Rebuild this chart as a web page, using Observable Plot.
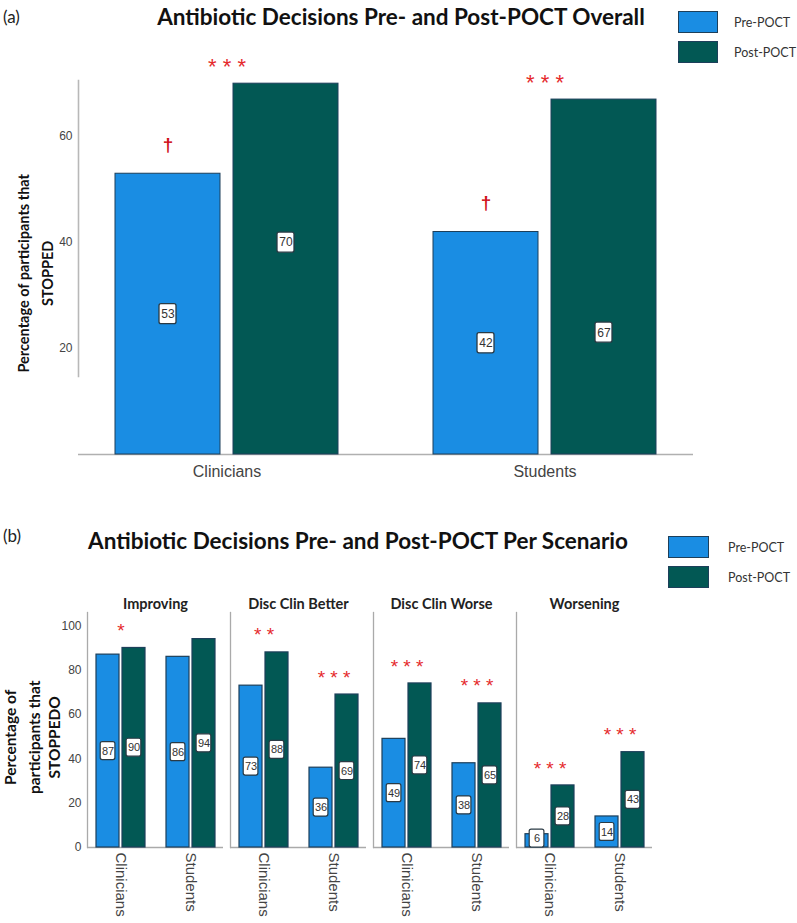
<!DOCTYPE html>
<html><head><meta charset="utf-8">
<script src="https://cdn.jsdelivr.net/npm/d3@7"></script>
<script src="https://cdn.jsdelivr.net/npm/@observablehq/plot@0.6"></script>
<style>
body{margin:0;background:#fff;}
#wrap{position:relative;width:797px;height:923px;overflow:hidden;font-family:Lato,sans-serif;background:#fff;}
#wrap svg{position:absolute;left:0;overflow:visible;}
.abs{position:absolute;white-space:nowrap;}
.title{font-weight:700;font-size:22.5px;color:#111;transform:translate(-50%,-50%);}
.tag{font-size:17px;color:#222;transform:translateY(-50%);}
.sw{position:absolute;border:1.2px solid #1d3f5a;box-sizing:border-box;}
.leglab{font-size:12.5px;color:#333;transform:translateY(-50%);}
</style></head><body><div id="wrap"></div>
<script>
// ---------- data ----------
const groups = ["Clinicians", "Students"];
const phases = ["Pre-POCT", "Post-POCT"];
const colors = ["#1a8de3", "#025854"];

// (a) overall
const overallPre = [53, 42];
const overallPost = [70, 67];
const overallPostTagAt = [40, 23];   // level (%) at which the post value tag sits
const overallPreMark = ["†", "†"];
const overallSig = ["***", "***"];

// (b) per scenario
const scenarios = ["Improving", "Disc Clin Better", "Disc Clin Worse", "Worsening"];
const scenPre  = [[87, 86], [73, 36], [49, 38], [6, 14]];
const scenPost = [[90, 94], [88, 69], [74, 65], [28, 43]];
const scenSig  = [["*", ""], ["**", "***"], ["***", "***"], ["***", "***"]];

const titleA = "Antibiotic Decisions Pre- and Post-POCT Overall";
const titleB = "Antibiotic Decisions Pre- and Post-POCT Per Scenario";
const yLabelA = ["Percentage of participants that", "STOPPED"];
const yLabelB = ["Percentage of", "participants that", "STOPPEDO"];

// ---------- helpers ----------
const wrap = document.getElementById("wrap");
function addDiv(cls, text, left, top, extra) {
  const d = document.createElement("div");
  d.className = "abs " + cls;
  d.textContent = text;
  d.style.left = left + "px";
  d.style.top = top + "px";
  if (extra) Object.assign(d.style, extra);
  wrap.appendChild(d);
  return d;
}
function legend(left, top, w, h, gap, labLeft) {
  phases.forEach((p, i) => {
    const s = document.createElement("div");
    s.className = "sw";
    Object.assign(s.style, {left: left + "px", top: (top + i * gap) + "px", width: w + "px", height: h + "px", background: colors[i]});
    wrap.appendChild(s);
    addDiv("leglab", p, labLeft, top + i * gap + h / 2);
  });
}
const spaced = s => s.split("").join(" ");
const axisFont = "Liberation Sans, Arial, sans-serif";
const red = "#e52a2d";
const edge = "#1d3f5a";
function yTitle(lines, yLevel, dxs, fontSize, extra = {}) {
  return lines.map((line, i) => Plot.text([line], {
    ...extra, frameAnchor: "left", y: yLevel, text: d => d, rotate: -90,
    textAnchor: "middle", lineAnchor: "middle", dx: dxs[i],
    fontSize, fontWeight: "bold", fill: "#111", fontFamily: "Lato"
  }));
}

// ---------- (a) ----------
const overall = groups.map((g, i) => ({
  group: g, pre: overallPre[i], post: overallPost[i], postAt: overallPostTagAt[i],
  mark: overallPreMark[i], sig: overallSig[i]
}));

const A = Plot.plot({
  width: 797, height: 490,
  marginLeft: 78, marginRight: 104, marginTop: 80, marginBottom: 114,
  style: {background: "transparent", overflow: "visible"},
  x: {domain: groups, paddingInner: 0.298, paddingOuter: 0.113, axis: null},
  y: {domain: [0, 70.6], range: [454, 80]},
  marks: [
    Plot.frame({anchor: "left", stroke: "#b8b8b8", strokeWidth: 1.6}),
    Plot.ruleY([0], {stroke: "#b0b0b0", strokeWidth: 1.6}),
    Plot.barY(overall, {x: "group", y: "pre", fill: colors[0], stroke: edge, strokeWidth: 1, insetRight: 118}),
    Plot.barY(overall, {x: "group", y: "post", fill: colors[1], stroke: edge, strokeWidth: 1, insetLeft: 118}),
    Plot.barY(overall, {x: "group", y1: d => d.pre / 2 - 1.9, y2: d => d.pre / 2 + 1.9, fill: "white", stroke: "#2a3a44", strokeWidth: 1.3, rx: 2, insetLeft: 44, insetRight: 162}),
    Plot.barY(overall, {x: "group", y1: d => d.postAt - 1.9, y2: d => d.postAt + 1.9, fill: "white", stroke: "#2a3a44", strokeWidth: 1.3, rx: 2, insetLeft: 162, insetRight: 44}),
    Plot.text(overall, {x: "group", y: d => d.pre / 2, text: d => String(d.pre), dx: -59, fontSize: 12, fill: "#333", fontFamily: axisFont}),
    Plot.text(overall, {x: "group", y: "postAt", text: d => String(d.post), dx: 59, fontSize: 12, fill: "#333", fontFamily: axisFont}),
    Plot.text(overall, {x: "group", y: "pre", text: "mark", dx: -59, dy: -29, fontSize: 19, fontWeight: "bold", fill: "#d0101a", fontFamily: axisFont}),
    Plot.text(overall, {x: "group", y: "post", text: d => spaced(d.sig), dy: -17, fontSize: 22, fill: red, fontFamily: axisFont}),
    Plot.axisY({ticks: [20, 40, 60], tickSize: 0, tickPadding: 6, fontSize: 12, fill: "#444", label: null, fontFamily: axisFont}),
    Plot.text(groups, {x: d => d, y: 0, dy: 17, fontSize: 16, fill: "#444", fontFamily: axisFont}),
    ...yTitle(yLabelA, 34.2, [-54, -30], 14.5)
  ]
});
A.style.top = "0px";
wrap.appendChild(A);

addDiv("tag", "(a)", 3, 16);
addDiv("title", titleA, 401, 16);
legend(678, 11, 40, 22, 30, 734);

// ---------- (b) ----------
const scen = [];
scenarios.forEach((s, i) => groups.forEach((g, j) => scen.push({
  scenario: s, group: g, pre: scenPre[i][j], post: scenPost[i][j], sig: scenSig[i][j]
})));
const half = 4.05; // half tag height (in %)

const B = Plot.plot({
  width: 797, height: 343,
  marginLeft: 87, marginRight: 145, marginTop: 32, marginBottom: 76,
  style: {background: "transparent", overflow: "visible"},
  fx: {domain: scenarios, paddingInner: 0.05, paddingOuter: 0, axis: null, label: null},
  x: {domain: groups, paddingInner: 0.3, paddingOuter: 0.115, axis: null},
  y: {domain: [0, 106], axis: null},
  marks: [
    Plot.frame({anchor: "left", stroke: "#aaa", strokeWidth: 1.3}),
    Plot.ruleY([0], {stroke: "#aaa", strokeWidth: 1.3}),
    Plot.barY(scen, {fx: "scenario", x: "group", y: "pre", fill: colors[0], stroke: edge, strokeWidth: 1.2, insetRight: 26}),
    Plot.barY(scen, {fx: "scenario", x: "group", y: "post", fill: colors[1], stroke: edge, strokeWidth: 1.2, insetLeft: 26}),
    Plot.barY(scen, {fx: "scenario", x: "group", y1: d => Math.max(d.pre / 2, half) - half, y2: d => Math.max(d.pre / 2, half) + half, fill: "white", stroke: "#2a3a44", strokeWidth: 1.2, rx: 2, insetLeft: 4.2, insetRight: 30.1}),
    Plot.barY(scen, {fx: "scenario", x: "group", y1: d => Math.max(d.post / 2, half) - half, y2: d => Math.max(d.post / 2, half) + half, fill: "white", stroke: "#2a3a44", strokeWidth: 1.2, rx: 2, insetLeft: 30.1, insetRight: 4.2}),
    Plot.text(scen, {fx: "scenario", x: "group", y: d => Math.max(d.pre / 2, half), text: d => String(d.pre), dx: -13, fontSize: 11, fill: "#333", fontFamily: axisFont}),
    Plot.text(scen, {fx: "scenario", x: "group", y: d => Math.max(d.post / 2, half), text: d => String(d.post), dx: 13, fontSize: 11, fill: "#333", fontFamily: axisFont}),
    Plot.text(scen, {fx: "scenario", x: "group", y: "post", text: d => spaced(d.sig), dy: -17, fontSize: 19, fill: red, fontFamily: axisFont}),
    Plot.axisY({ticks: [0, 20, 40, 60, 80, 100], tickSize: 0, tickPadding: 6, fontSize: 12, fill: "#444", label: null, fontFamily: axisFont}),
    Plot.axisX({tickRotate: 90, tickSize: 0, tickPadding: 5, fontSize: 15, fill: "#444", label: null, fontFamily: axisFont}),
    Plot.axisFx({anchor: "top", tickSize: 0, tickPadding: 4, fontSize: 14.5, fontWeight: "bold", fill: "#222", label: null, fontFamily: "Lato"}),
    ...yTitle(yLabelB, 49.7, [-76, -52, -32], 15.5, {fx: () => scenarios[0]})
  ]
});
B.style.top = "580px";
wrap.appendChild(B);

addDiv("tag", "(b)", 3, 535);
addDiv("title", titleB, 358, 540);
legend(668, 536, 41, 22, 30, 728);
</script></body></html>
